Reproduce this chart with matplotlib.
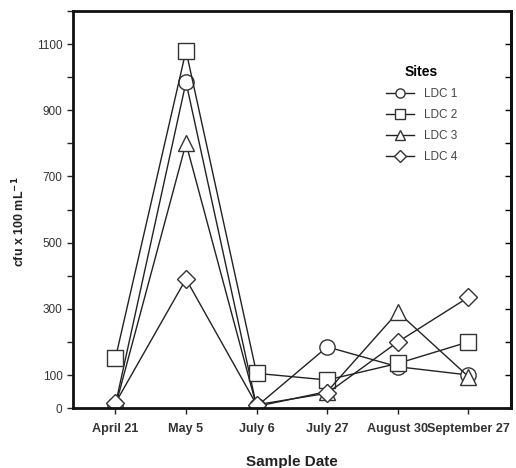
import numpy as np
import matplotlib.pyplot as plt

plt.rcParams['font.family'] = ['Liberation Sans', 'DejaVu Sans']

# sample dates and counts per site (cfu x 100 mL-1)
dates = ['April 21', 'May 5', 'July 6', 'July 27', 'August 30', 'September 27']
ldc1 = [10, 985, 5, 185, 125, 100]
ldc2 = [150, 1080, 105, 85, 135, 200]
ldc3 = [5, 800, 5, 50, 290, 95]
ldc4 = [15, 390, 10, 45, 200, 335]

sites = ['LDC 1', 'LDC 2', 'LDC 3', 'LDC 4']
markers = ['o', 's', '^', 'D']

ytick_vals = list(range(0, 1300, 100))
ytick_labels = ['0', '100', '', '300', '', '500', '', '700', '', '900', '', '1100', '']


def main():
    fig = plt.figure(figsize=(5.16, 4.68), dpi=100)
    ax = fig.add_axes([0.1415, 0.128, 0.8485, 0.8485])

    x = np.arange(len(dates))
    for vals, name, m in zip([ldc1, ldc2, ldc3, ldc4], sites, markers):
        ms = 9.5 if m == 'D' else 11
        ax.plot(x, vals, color='#222222', lw=1.0, marker=m, ms=ms,
                mfc='white', mec='#333333', mew=1.0, label=name)

    ax.set_xlim(-0.6, 5.6)
    ax.set_ylim(0, 1200)
    ax.set_xticks(x)
    ax.set_xticklabels(dates, fontweight='bold', fontsize=9.1, color='#333333')
    ax.set_yticks(ytick_vals)
    ax.set_yticklabels(ytick_labels, fontsize=8.5, color='#333333')
    ax.tick_params(axis='both', direction='out', length=4, width=1, color='#222222')
    ax.tick_params(axis='x', pad=7)

    sec = ax.secondary_yaxis('right')
    sec.set_yticks(ytick_vals)
    sec.set_yticklabels([])
    sec.tick_params(direction='in', length=4, width=1)
    sec.spines['right'].set_linewidth(2)

    for s in ax.spines.values():
        s.set_linewidth(2)
        s.set_color('#111111')

    ax.set_xlabel('Sample Date', fontweight='bold', fontsize=11, labelpad=14, color='#222222')
    ax.set_ylabel('cfu x 100 mL$^{\\mathbf{-1}}$', fontweight='bold', fontsize=9,
                  color='#222222')
    ax.yaxis.set_label_coords(-0.105, 0.47)

    leg = ax.legend(loc='upper left', bbox_to_anchor=(0.69, 0.89), frameon=False,
                    title='Sites', fontsize=8.5, markerscale=0.6, handlelength=2.4,
                    labelspacing=0.75)
    leg.get_title().set_fontweight('bold')
    leg.get_title().set_fontsize(10)
    for t in leg.get_texts():
        t.set_color('#444444')

    fig.savefig('out.png', dpi=100)


if __name__ == '__main__':
    main()
